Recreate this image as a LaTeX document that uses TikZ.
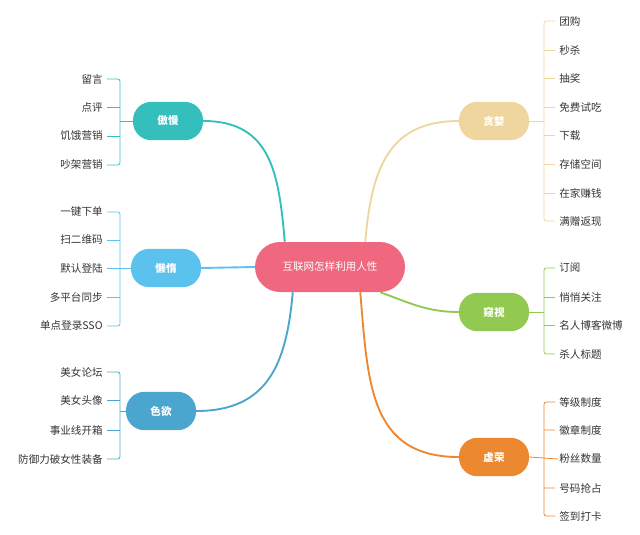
\documentclass[tikz,border=0pt]{standalone}
\usepackage{fontspec}
\newfontfamily\cjk{Noto Sans CJK SC}
\definecolor{cmain}{HTML}{F0687F}
\definecolor{cproud}{HTML}{35BFBC}
\definecolor{clazy}{HTML}{5BC2EE}
\definecolor{clust}{HTML}{4AA6CE}
\definecolor{cgreed}{HTML}{EFD59E}
\definecolor{cpeep}{HTML}{92C950}
\definecolor{cvain}{HTML}{EC8830}

\begin{document}
\begin{tikzpicture}[x=0.03cm,y=-0.03cm,font=\cjk\fontsize{9}{10}\selectfont,
    topic/.style={rectangle, rounded corners=5.5mm, fill=#1, text=white,
                  minimum width=2.1cm, minimum height=1.15cm, font=\cjk\bfseries\fontsize{9}{10}\selectfont},
    leafL/.style={anchor=east, text=black!80, inner sep=1pt},
    leafR/.style={anchor=west, text=black!80, inner sep=1pt},
    branch/.style={draw=#1, line width=1.6pt},
    twig/.style={draw=#1, line width=0.7pt, rounded corners=2pt}]

    \useasboundingbox (0,0) rectangle (640,535);

    % centre
    \node[topic=cmain, minimum width=4.5cm, minimum height=1.5cm, rounded corners=7.5mm,
          font=\cjk\fontsize{9}{10}\selectfont] (root) at (330,267) {互联网怎样利用人性};

    % topics
    \node[topic=cproud] (proud) at (168,121) {傲慢};
    \node[topic=clazy]  (lazy)  at (166,268) {懒惰};
    \node[topic=clust]  (lust)  at (161,411) {色欲};
    \node[topic=cgreed] (greed) at (494,121) {贪婪};
    \node[topic=cpeep]  (peep)  at (494,312) {窥视};
    \node[topic=cvain]  (vain)  at (494,457) {虚荣};

    % branches
    \path[branch=cproud] (root.north west) ++(30,0) coordinate (r1)
        (r1) edge[out=95,in=0,looseness=1.2] (proud.east);
    \draw[branch=clazy] (root.west) -- (lazy.east);
    \path[branch=clust] (root.south west) ++(38,0) coordinate (r3)
        (r3) edge[out=-95,in=0,looseness=1.2] (lust.east);
    \path[branch=cgreed] (root.north east) ++(-40,0) coordinate (r4)
        (r4) edge[out=85,in=180,looseness=1.2] (greed.west);
    \path[branch=cpeep] (root.south east) ++(-25,0) coordinate (r5)
        (r5) edge[out=-20,in=180] (peep.west);
    \path[branch=cvain] (root.south east) ++(-45,0) coordinate (r6)
        (r6) edge[out=-85,in=180,looseness=1.2] (vain.west);

    % leaves, left side
    \foreach \txt/\y [count=\i] in {留言/79,点评/107,饥饿营销/136,吵架营销/165}
        \node[leafL] (proud\i) at (104,\y) {\txt};
    \draw[twig=cproud] (proud1.east) ++(3,0) -- (120,79) -- (120,165) -- (107,165);
    \draw[twig=cproud] (proud2.east) ++(3,0) -- (120,107) (proud3.east) ++(3,0) -- (120,136)
        (120,121) -- (proud.west);

    \foreach \txt/\y [count=\i] in {一键下单/212,扫二维码/240,默认登陆/268,多平台同步/297,单点登录SSO/326}
        \node[leafL] (lazy\i) at (104,\y) {\txt};
    \draw[twig=clazy] (lazy1.east) ++(3,0) -- (120,212) -- (120,326) -- (107,326);
    \draw[twig=clazy] (lazy2.east) ++(3,0) -- (120,240) (lazy3.east) ++(3,0) -- (lazy.west)
        (lazy4.east) ++(3,0) -- (120,297);

    \foreach \txt/\y [count=\i] in {美女论坛/372,美女头像/400,事业线开箱/430,防御力破女性装备/459}
        \node[leafL] (lust\i) at (104,\y) {\txt};
    \draw[twig=clust] (lust1.east) ++(3,0) -- (120,372) -- (120,459) -- (107,459);
    \draw[twig=clust] (lust2.east) ++(3,0) -- (120,400) (lust3.east) ++(3,0) -- (120,430)
        (120,411) -- (lust.west);

    % leaves, right side
    \foreach \txt/\y [count=\i] in {团购/21,秒杀/50,抽奖/78,免费试吃/107,下载/135,存储空间/164,在家赚钱/193,满赠返现/221}
        \node[leafR] (greed\i) at (558,\y) {\txt};
    \draw[twig=cgreed] (greed1.west) ++(-3,0) -- (544,21) -- (544,221) -- (555,221);
    \foreach \y in {50,78,107,135,164,193}
        \draw[twig=cgreed] (544,\y) -- (555,\y);
    \draw[twig=cgreed] (544,121) -- (greed.east);

    \foreach \txt/\y [count=\i] in {订阅/268,悄悄关注/297,名人博客微博/325,杀人标题/354}
        \node[leafR] (peep\i) at (558,\y) {\txt};
    \draw[twig=cpeep] (peep1.west) ++(-3,0) -- (544,268) -- (544,354) -- (555,354);
    \draw[twig=cpeep] (544,297) -- (555,297) (544,325) -- (555,325) (544,312) -- (peep.east);

    \foreach \txt/\y [count=\i] in {等级制度/402,徽章制度/430,粉丝数量/459,号码抢占/488,签到打卡/516}
        \node[leafR] (vain\i) at (558,\y) {\txt};
    \draw[twig=cvain] (vain1.west) ++(-3,0) -- (544,402) -- (544,516) -- (555,516);
    \draw[twig=cvain] (544,430) -- (555,430) (544,488) -- (555,488) (vain.east) -- (vain3.west);

\end{tikzpicture}
\end{document}
